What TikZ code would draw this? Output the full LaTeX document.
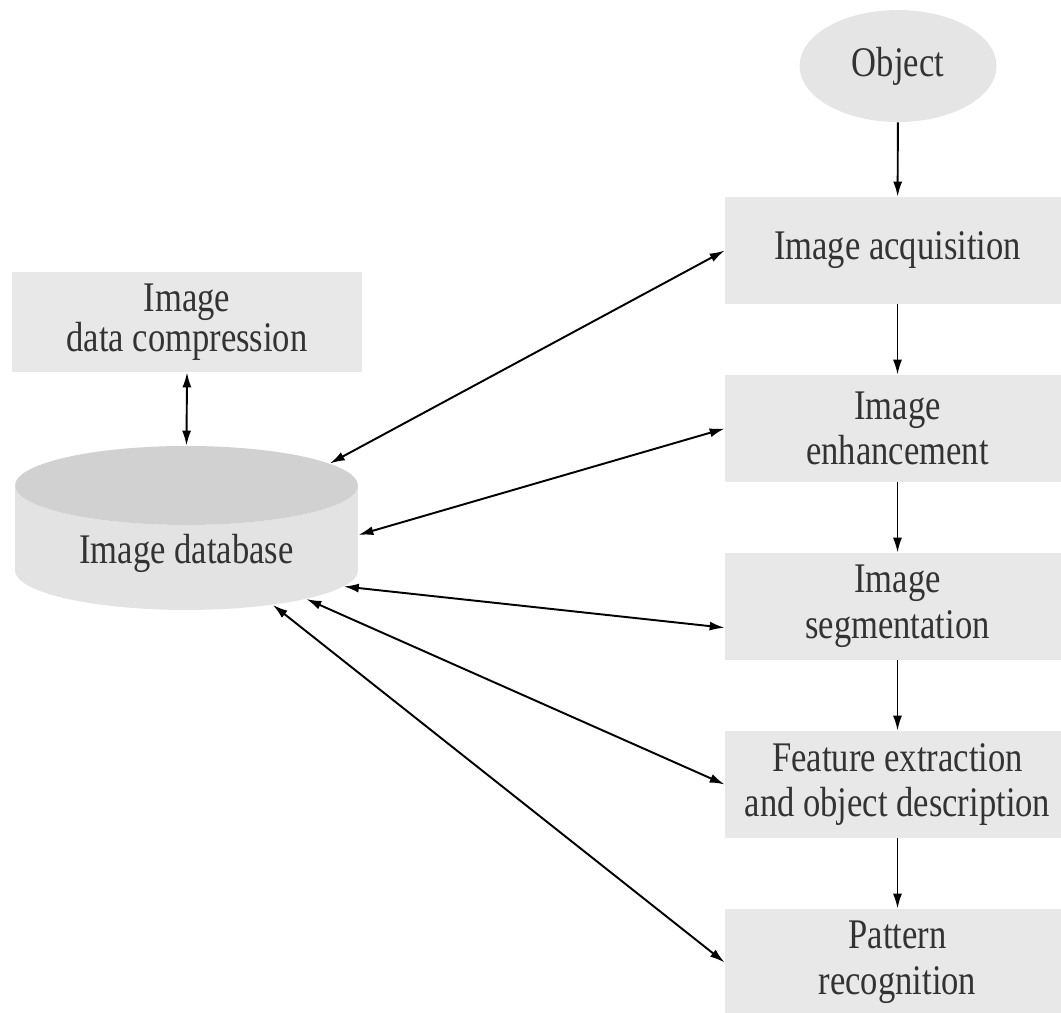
\documentclass[tikz,border=0pt]{standalone}
\usepackage{fontspec}
\setmainfont[FakeStretch=0.82]{Liberation Serif}
\usetikzlibrary{shapes.geometric,arrows.meta}

\begin{document}
\begin{tikzpicture}[x=0.02cm,y=-0.02cm,
    txt/.style={align=center,text=black!80,font=\fontsize{24}{26}\selectfont},
    stage/.style={txt,rectangle,fill=gray!18,minimum width=6.9cm,minimum height=2.14cm},
    link/.style={line width=1.1pt,{Latex[length=3mm,width=1.8mm]}-{Latex[length=3mm,width=1.8mm]}},
    flow/.style={line width=1.1pt,-{Latex[length=3mm,width=1.8mm]}}]
        \useasboundingbox (0,0) rectangle (1061,1012);
        %% Processing chain
        \node[txt,ellipse,fill=gray!20,minimum width=3.94cm,minimum height=2.24cm] (obj) at (898,66) {Object};
        \node[stage] (acq) at (897.5,250.5) {Image acquisition};
        \node[stage] (enh) at (897.5,428.5) {Image\\enhancement};
        \node[stage] (seg) at (897.5,606.5) {Image\\segmentation};
        \node[stage] (feat) at (897.5,784.5) {Feature extraction\\and object description};
        \node[stage] (pat) at (897.5,962.5) {Pattern\\recognition};
        %% Storage
        \node[stage,minimum width=7cm,minimum height=2cm,font=\fontsize{24}{20}\selectfont] (comp) at (187,322) {Image\\data compression};
        \node[txt,cylinder,shape border rotate=90,aspect=0.35,minimum height=3.28cm,minimum width=6.86cm,
            cylinder uses custom fill,cylinder body fill=gray!22,cylinder end fill=gray!36] (db) at (186.5,553) {Image database};
        %% Arrows
        \draw[flow] (obj) -- (acq);
        \draw[flow] (acq) -- (enh);
        \draw[flow] (enh) -- (seg);
        \draw[flow] (seg) -- (feat);
        \draw[flow] (feat) -- (pat);
        \draw[link] (comp.south) -- (db.90);
        \draw[link] (db.32) -- (acq.west);
        \draw[link] (db.6) -- (enh.west);
        \draw[link] (db.-12) -- (seg.187);
        \draw[link] (db.-21) -- (feat.west);
        \draw[link] (db.-31) -- (pat.west);
    \end{tikzpicture}
\end{document}
